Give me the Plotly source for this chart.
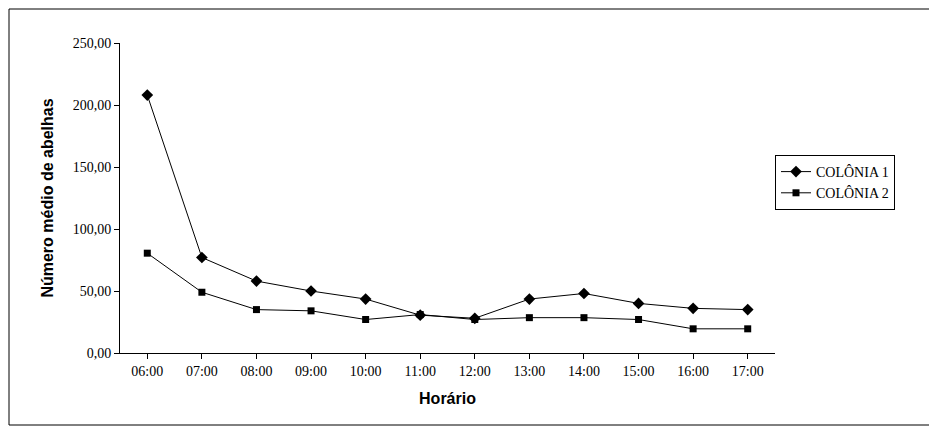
import plotly.graph_objects as go

horarios = ["06:00", "07:00", "08:00", "09:00", "10:00", "11:00",
            "12:00", "13:00", "14:00", "15:00", "16:00", "17:00"]
colonia1 = [208, 77, 58, 50, 43.5, 30.5, 28, 43.5, 48, 40, 36, 35]
colonia2 = [80.5, 49, 35, 34, 27, 31, 27, 28.5, 28.5, 27, 19.5, 19.5]

# plot area in figure pixels: x 112..767, y 35..345
L, R, T, B = 112, 170, 35, 82
W, H = 937, 427
pw, ph = W - L - R, H - T - B

fig = go.Figure()
fig.add_trace(go.Scatter(x=horarios, y=colonia1, name="COLÔNIA 1", mode="lines+markers",
                         line=dict(color="black", width=1),
                         marker=dict(symbol="diamond", size=9, color="black")))
fig.add_trace(go.Scatter(x=horarios, y=colonia2, name="COLÔNIA 2", mode="lines+markers",
                         line=dict(color="black", width=1),
                         marker=dict(symbol="square", size=7, color="black")))

fig.update_layout(
    width=W, height=H,
    paper_bgcolor="white", plot_bgcolor="white",
    margin=dict(l=L, r=R, t=T, b=B),
    font=dict(family="Liberation Serif", size=14, color="black"),
    legend=dict(x=1.0, y=0.55, xanchor="left", yanchor="middle",
                bordercolor="black", borderwidth=1, bgcolor="white",
                font=dict(family="Liberation Serif", size=14)),
    shapes=[dict(type="rect", xref="paper", yref="paper",
                 x0=(1 - L) / pw, x1=(927 - L) / pw,
                 y0=(H - B - 417) / ph, y1=(H - B - 1) / ph,
                 line=dict(color="black", width=1))],
)
fig.update_xaxes(type="category", range=[-0.5, 11.5], showgrid=False,
                 showline=True, linecolor="black", ticks="outside", tickcolor="black",
                 title=dict(text="<b>Horário</b>", font=dict(family="Liberation Sans", size=16)))
fig.update_yaxes(range=[0, 250], showgrid=False, showline=True, linecolor="black",
                 ticks="outside", tickcolor="black", zeroline=False,
                 tickvals=[0, 50, 100, 150, 200, 250],
                 ticktext=["0,00", "50,00", "100,00", "150,00", "200,00", "250,00"],
                 title=dict(text="<b>Número médio de abelhas</b>",
                            font=dict(family="Liberation Sans", size=16)))

fig.write_html("out.html")
